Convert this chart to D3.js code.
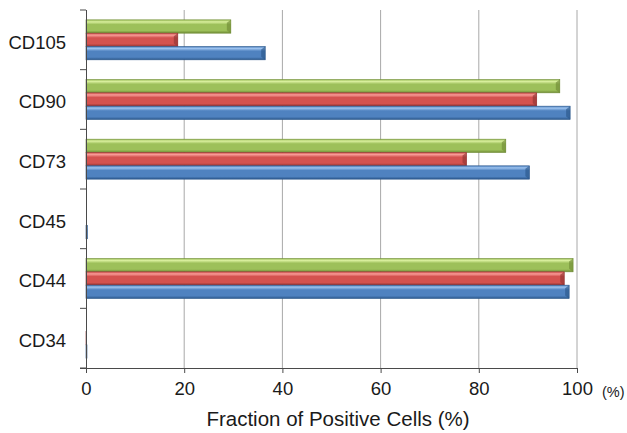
<!DOCTYPE html>
<html>
<head>
<meta charset="utf-8">
<script src="https://cdn.jsdelivr.net/npm/d3@7"></script>
<style>
  html, body { margin: 0; padding: 0; background: #fff; }
  text { font-family: "Liberation Sans", Arial, sans-serif; fill: #1a1a1a; }
</style>
</head>
<body>
<div id="chart"></div>
<script>
// Data
const markers = ["CD105", "CD90", "CD73", "CD45", "CD44", "CD34"];
const greenValues = [29.5, 96.5, 85.5, 0, 99.2, 0];
const redValues   = [18.7, 91.8, 77.5, 0, 97.4, 0.1];
const blueValues  = [36.5, 98.6, 90.3, 0.3, 98.4, 0.2];
const xTicks = [0, 20, 40, 60, 80, 100];

const width = 627, height = 433;
const margin = { top: 10, right: 50, bottom: 65, left: 86 };

const svg = d3.select("#chart").append("svg")
    .attr("width", width)
    .attr("height", height);

// Series styling (bevel-ish gradients)
const series = [
    { key: "green", values: greenValues, light: "#d8ee9c", base: "#9dc05a", dark: "#708c36" },
    { key: "red",   values: redValues,   light: "#f79a96", base: "#d4524f", dark: "#923432" },
    { key: "blue",  values: blueValues,  light: "#9cc2ee", base: "#4f82c0", dark: "#2b578b" }
];

const defs = svg.append("defs");
series.forEach(s => {
    const g = defs.append("linearGradient")
        .attr("id", "grad-" + s.key)
        .attr("x1", 0).attr("y1", 0).attr("x2", 0).attr("y2", 1);
    g.append("stop").attr("offset", "0%").attr("stop-color", s.base);
    g.append("stop").attr("offset", "15%").attr("stop-color", s.light);
    g.append("stop").attr("offset", "35%").attr("stop-color", s.base);
    g.append("stop").attr("offset", "80%").attr("stop-color", s.base);
    g.append("stop").attr("offset", "100%").attr("stop-color", s.dark);
});

const x = d3.scaleLinear()
    .domain([0, 100])
    .range([margin.left, width - margin.right]);

const y = d3.scaleBand()
    .domain(markers)
    .range([margin.top, height - margin.bottom])
    .paddingInner(0.33)
    .paddingOuter(0.165);

const ySub = d3.scaleBand()
    .domain(series.map(s => s.key))
    .range([0, y.bandwidth()])
    .padding(0);

// Gridlines
svg.append("g")
    .selectAll("line")
    .data(xTicks.filter(d => d > 0))
    .enter().append("line")
    .attr("x1", d => x(d)).attr("x2", d => x(d))
    .attr("y1", margin.top).attr("y2", height - margin.bottom)
    .attr("stroke", "#a8a8a8")
    .attr("stroke-width", 1);

// Bars
const barLayer = svg.append("g");
series.forEach(s => {
    const grp = barLayer.append("g");
    grp.selectAll("rect")
        .data(markers.map((m, i) => ({ m, v: s.values[i] })))
        .enter().append("rect")
        .attr("x", x(0))
        .attr("y", d => y(d.m) + ySub(s.key))
        .attr("width", d => Math.max(0, x(d.v) - x(0)))
        .attr("height", ySub.bandwidth())
        .attr("fill", `url(#grad-${s.key})`)
        .attr("stroke", s.dark)
        .attr("stroke-width", d => d.v > 0 ? 0.6 : 0);

    // bevelled right end
    grp.selectAll("path")
        .data(markers.map((m, i) => ({ m, v: s.values[i] })).filter(d => d.v > 3))
        .enter().append("path")
        .attr("d", d => {
            const x1 = x(d.v), y0 = y(d.m) + ySub(s.key), h = ySub.bandwidth();
            return `M${x1 - 4},${y0 + 3} L${x1},${y0} L${x1},${y0 + h} L${x1 - 4},${y0 + h - 3} Z`;
        })
        .attr("fill", s.dark)
        .attr("opacity", 0.65);
});

// Axes
const axisColor = "#4a4a4a";
const bottom = height - margin.bottom;

const xAxis = svg.append("g")
    .attr("transform", `translate(0,${bottom})`)
    .call(d3.axisBottom(x).tickValues(xTicks).tickSize(5).tickSizeOuter(0));
xAxis.select(".domain").attr("stroke", axisColor).attr("d", `M${margin.left - 6},0.5H${x(100)}`);
xAxis.selectAll(".tick line").attr("stroke", axisColor);
xAxis.selectAll(".tick text")
    .attr("y", 14)
    .style("font-size", "18.5px")
    .style("font-family", "'Liberation Sans', Arial, sans-serif")
    .attr("fill", "#1a1a1a");

const yAxis = svg.append("g")
    .attr("transform", `translate(${margin.left},0)`)
    .call(d3.axisLeft(y).tickSize(0).tickPadding(20));
yAxis.select(".domain").attr("stroke", axisColor).attr("d", `M0.5,${margin.top}V${bottom}`);
yAxis.selectAll(".tick text")
    .attr("dy", "0.32em")
    .attr("transform", "translate(0,3)")
    .style("font-size", "18.5px")
    .style("font-family", "'Liberation Sans', Arial, sans-serif")
    .attr("fill", "#1a1a1a");

// category boundary ticks on the left axis
svg.append("g")
    .selectAll("line")
    .data(d3.range(markers.length + 1))
    .enter().append("line")
    .attr("x1", margin.left - 6).attr("x2", margin.left)
    .attr("y1", i => margin.top + i * (bottom - margin.top) / markers.length)
    .attr("y2", i => margin.top + i * (bottom - margin.top) / markers.length)
    .attr("stroke", axisColor);

// Unit and title
svg.append("text")
    .attr("x", x(100) + 25)
    .attr("y", bottom + 29)
    .style("font-size", "14.5px")
    .text("(%)");

svg.append("text")
    .attr("x", 338)
    .attr("y", 426)
    .attr("text-anchor", "middle")
    .style("font-size", "20.5px")
    .text("Fraction of Positive Cells (%)");
</script>
</body>
</html>
